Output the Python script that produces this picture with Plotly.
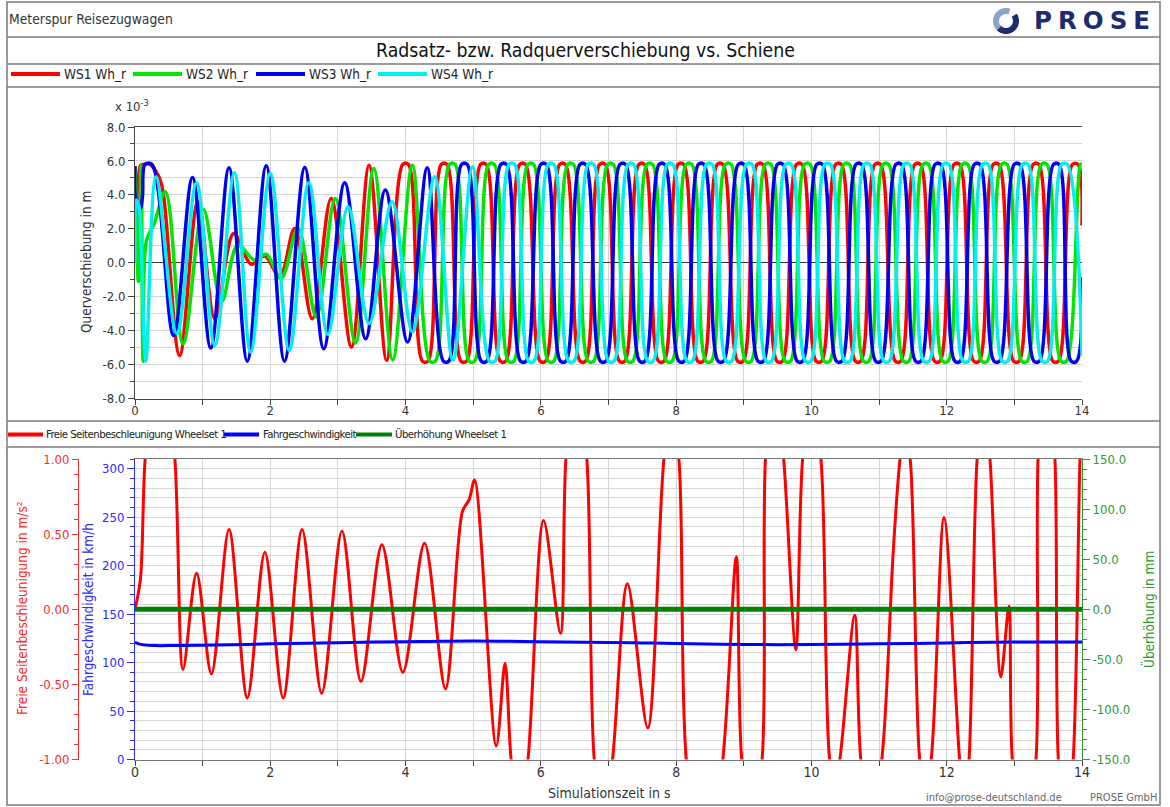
import math
import plotly.graph_objects as go

W, H = 1170, 807

# ---------------- upper panel: lateral displacement of wheelsets (unit 1e-3 m) ----------------
ws1_t = [0.00, 0.03, 0.08, 0.13, 0.22, 0.34, 0.41, 0.66, 0.93, 1.18,
         1.46, 1.72, 1.92, 2.14, 2.36, 2.62, 2.90, 3.20, 3.46, 3.72,
         3.96, 4.04, 4.25, 4.33, 4.53, 4.61, 4.82, 4.90, 5.11, 5.19,
         5.40, 5.48, 5.69, 5.77, 5.99, 6.07, 6.28, 6.36, 6.58, 6.66,
         6.87, 6.95, 7.16, 7.24, 7.45, 7.53, 7.74, 7.82, 8.03, 8.11,
         8.32, 8.40, 8.61, 8.69, 8.91, 8.99, 9.20, 9.28, 9.49, 9.57,
         9.78, 9.86, 10.07, 10.15, 10.36, 10.44, 10.65, 10.73, 10.94, 11.02,
         11.24, 11.32, 11.53, 11.61, 11.82, 11.90, 12.11, 12.19, 12.40, 12.48,
         12.69, 12.77, 12.99, 13.07, 13.28, 13.36, 13.57, 13.65, 13.86, 13.94,
         14.00]
ws1_q = [5.6, 1.7, 5.7, 5.8, 5.8, 5.17, 4.3, -5.46, 3.6, -3.3,
         1.72, -0.09, 0.4, -0.84, 2.02, -3.3, 3.79, -4.97, 5.75, -5.75,
         5.8, 5.8, -5.8, -5.8, 5.8, 5.8, -5.8, -5.8, 5.8, 5.8,
         -5.8, -5.8, 5.8, 5.8, -5.8, -5.8, 5.8, 5.8, -5.8, -5.8,
         5.8, 5.8, -5.8, -5.8, 5.8, 5.8, -5.8, -5.8, 5.8, 5.8,
         -5.8, -5.8, 5.8, 5.8, -5.8, -5.8, 5.8, 5.8, -5.8, -5.8,
         5.8, 5.8, -5.8, -5.8, 5.8, 5.8, -5.8, -5.8, 5.8, 5.8,
         -5.8, -5.8, 5.8, 5.8, -5.8, -5.8, 5.8, 5.8, -5.8, -5.8,
         5.8, 5.8, -5.8, -5.8, 5.8, 5.8, -5.8, -5.8, 5.8, 5.8,
         2.2]

ws2_t = [0.00, 0.05, 0.09, 0.12, 0.17, 0.28, 0.45, 0.71, 1.01, 1.28,
         1.52, 1.77, 1.94, 2.16, 2.41, 2.68, 2.96, 3.26, 3.53, 3.81, 4.10,
         4.36, 4.44, 4.65, 4.73, 4.94, 5.02, 5.23, 5.31, 5.52, 5.60,
         5.81, 5.89, 6.11, 6.19, 6.40, 6.48, 6.70, 6.78, 6.99, 7.07,
         7.28, 7.36, 7.57, 7.65, 7.86, 7.94, 8.15, 8.23, 8.44, 8.52,
         8.73, 8.81, 9.03, 9.11, 9.32, 9.40, 9.61, 9.69, 9.90, 9.98,
         10.19, 10.27, 10.48, 10.56, 10.77, 10.85, 11.06, 11.14, 11.36, 11.44,
         11.65, 11.73, 11.94, 12.02, 12.23, 12.31, 12.52, 12.60, 12.81, 12.89,
         13.11, 13.19, 13.40, 13.48, 13.69, 13.77, 13.98, 14.00]
ws2_q = [5.7, -1.1, 5.7, -5.8, 1.3, 2.26, 4.18, -4.77, 3.15, -2.3,
         1.03, 0.15, 0.5, -0.93, 2.02, -3.2, 3.79, -4.73, 5.56, -5.72, 5.75,
         -5.8, -5.8, 5.8, 5.8, -5.8, -5.8, 5.8, 5.8, -5.8, -5.8,
         5.8, 5.8, -5.8, -5.8, 5.8, 5.8, -5.8, -5.8, 5.8, 5.8,
         -5.8, -5.8, 5.8, 5.8, -5.8, -5.8, 5.8, 5.8, -5.8, -5.8,
         5.8, 5.8, -5.8, -5.8, 5.8, 5.8, -5.8, -5.8, 5.8, 5.8,
         -5.8, -5.8, 5.8, 5.8, -5.8, -5.8, 5.8, 5.8, -5.8, -5.8,
         5.8, 5.8, -5.8, -5.8, 5.8, 5.8, -5.8, -5.8, 5.8, 5.8,
         -5.8, -5.8, 5.8, 5.8, -5.8, -5.8, 5.8, 5.8]

ws3_t = [0.00, 0.01, 0.05, 0.08, 0.11, 0.15, 0.25, 0.57, 0.85, 1.12,
         1.39, 1.66, 1.94, 2.21, 2.51, 2.79, 3.10, 3.41, 3.70, 4.03, 4.32,
         4.56, 4.64, 4.83, 4.91, 5.12, 5.20, 5.41, 5.49, 5.70, 5.78,
         6.00, 6.08, 6.29, 6.37, 6.58, 6.66, 6.88, 6.96, 7.17, 7.25,
         7.46, 7.54, 7.75, 7.83, 8.04, 8.12, 8.33, 8.41, 8.62, 8.70,
         8.92, 9.00, 9.21, 9.29, 9.50, 9.58, 9.79, 9.87, 10.08, 10.16,
         10.37, 10.45, 10.66, 10.74, 10.95, 11.03, 11.25, 11.33, 11.54, 11.62,
         11.83, 11.91, 12.12, 12.20, 12.41, 12.49, 12.70, 12.78, 13.00, 13.08,
         13.29, 13.37, 13.58, 13.66, 13.84, 13.92, 14.00]
ws3_q = [5.7, 3.8, 3.5, 3.2, 3.9, 5.8, 5.8, -4.28, 5.03, -5.03,
         5.6, -5.8, 5.72, -5.8, 5.62, -5.07, 4.71, -4.48, 4.28, -4.67, 5.6,
         -5.8, -5.8, 5.8, 5.8, -5.8, -5.8, 5.8, 5.8, -5.8, -5.8,
         5.8, 5.8, -5.8, -5.8, 5.8, 5.8, -5.8, -5.8, 5.8, 5.8,
         -5.8, -5.8, 5.8, 5.8, -5.8, -5.8, 5.8, 5.8, -5.8, -5.8,
         5.8, 5.8, -5.8, -5.8, 5.8, 5.8, -5.8, -5.8, 5.8, 5.8,
         -5.8, -5.8, 5.8, 5.8, -5.8, -5.8, 5.8, 5.8, -5.8, -5.8,
         5.8, 5.8, -5.8, -5.8, 5.8, 5.8, -5.8, -5.8, 5.8, 5.8,
         -5.8, -5.8, 5.8, 5.8, -5.8, -5.8, -0.86]

ws4_t = [0.00, 0.02, 0.06, 0.09, 0.16, 0.31, 0.62, 0.91, 1.18, 1.47,
         1.71, 2.00, 2.28, 2.57, 2.85, 3.15, 3.46, 3.80, 4.10, 4.43, 4.70, 4.99,
         5.24, 5.32, 5.53, 5.61, 5.82, 5.90, 6.11, 6.19, 6.41, 6.49,
         6.70, 6.78, 7.00, 7.08, 7.29, 7.37, 7.58, 7.66, 7.87, 7.95,
         8.16, 8.24, 8.45, 8.53, 8.74, 8.82, 9.04, 9.12, 9.33, 9.41,
         9.62, 9.70, 9.91, 9.99, 10.20, 10.28, 10.49, 10.57, 10.78, 10.86,
         11.07, 11.15, 11.37, 11.45, 11.66, 11.74, 11.95, 12.03, 12.24, 12.32,
         12.53, 12.61, 12.82, 12.90, 13.12, 13.20, 13.41, 13.49, 13.70, 13.78,
         14.00]
ws4_q = [0.0, 3.7, 3.3, 1.2, -5.8, 5.07, -4.18, 4.71, -4.87, 5.3,
         -5.27, 5.27, -5.17, 4.71, -4.22, 3.3, -3.59, 3.59, -4.08, 5.07, -5.75, 5.66,
         -5.8, -5.8, 5.8, 5.8, -5.8, -5.8, 5.8, 5.8, -5.8, -5.8,
         5.8, 5.8, -5.8, -5.8, 5.8, 5.8, -5.8, -5.8, 5.8, 5.8,
         -5.8, -5.8, 5.8, 5.8, -5.8, -5.8, 5.8, 5.8, -5.8, -5.8,
         5.8, 5.8, -5.8, -5.8, 5.8, 5.8, -5.8, -5.8, 5.8, 5.8,
         -5.8, -5.8, 5.8, 5.8, -5.8, -5.8, 5.8, 5.8, -5.8, -5.8,
         5.8, 5.8, -5.8, -5.8, 5.8, 5.8, -5.8, -5.8, 5.8, 5.8,
         -5.5]

series_names = ["WS1 Wh_r", "WS2 Wh_r", "WS3 Wh_r", "WS4 Wh_r"]

# ---------------- lower panel ----------------
# free lateral acceleration, wheelset 1 (m/s^2)
acc_t = [0.00, 0.08, 0.15, 0.37, 0.59, 0.71, 0.91, 1.13, 1.39, 1.66,
         1.92, 2.19, 2.47, 2.76, 3.06, 3.34, 3.65, 3.96, 4.28, 4.59,
         4.84, 4.94, 5.02, 5.34, 5.47, 5.56, 5.68, 5.81, 6.04, 6.29,
         6.37, 6.52, 6.68, 6.79, 6.93, 7.06, 7.28, 7.58, 7.82, 7.93,
         8.04, 8.15, 8.42, 8.69, 8.89, 8.97, 9.12, 9.27, 9.32, 9.45,
         9.59, 9.77, 9.87, 10.00, 10.14, 10.27, 10.35, 10.42, 10.64, 10.73,
         10.88, 11.04, 11.21, 11.31, 11.38, 11.46, 11.60, 11.68, 11.77, 11.96,
         12.19, 12.26, 12.33, 12.45, 12.55, 12.64, 12.80, 12.92, 12.97, 13.15,
         13.32, 13.35, 13.47, 13.60, 13.65, 13.76, 13.87, 13.97, 14.00]
acc_a = [0.00, 0.20, 1.00, 2.00, 1.00, -0.40, 0.24, -0.43, 0.53, -0.59,
         0.38, -0.59, 0.53, -0.56, 0.52, -0.48, 0.43, -0.42, 0.44, -0.53,
         0.65, 0.73, 0.86, -0.91, -0.36, -1.00, -1.40, -1.00, 0.59, -0.16,
         1.00, 1.60, 1.00, -1.00, -1.40, -1.00, 0.17, -0.79, 1.00, 1.30,
         1.00, -1.00, -1.80, -1.00, 0.35, -1.00, -1.40, -1.00, 1.00, 1.60,
         1.00, -0.27, 1.00, 1.40, 1.00, -1.00, -1.15, -1.00, -0.04, -1.00,
         -1.40, -1.00, 0.39, 1.00, 1.20, 1.00, -1.00, -1.20, -1.00, 0.61,
         -1.00, -1.30, -1.00, 1.00, 1.40, 1.00, -0.45, 0.02, -1.00, -1.60,
         -1.00, 1.00, 1.80, 1.00, -1.00, -1.50, -1.00, 1.00, 1.30]

# driving speed (km/h)
v_t = [0.0, 0.1, 0.3, 0.6, 1.0, 2.0, 3.0, 4.0, 5.0, 6.0,
       7.0, 7.5, 8.0, 9.0, 10.0, 11.0, 12.0, 13.0, 14.0]
v_kmh = [120.9, 118.5, 117.5, 117.6, 117.8, 119.3, 120.5, 121.6, 122.3, 121.6,
         120.6, 120.3, 119.6, 118.6, 118.6, 119.3, 120.3, 121.2, 121.3]

# cant, wheelset 1 (mm)
ueb_t = [0.0, 14.0]
ueb_mm = [0.0, 0.0]

lower_names = ["Freie Seitenbeschleunigung Wheelset 1", "Fahrgeschwindigkeit", "Überhöhung Wheelset 1"]

# tick labels
t_ticks = [0, 2, 4, 6, 8, 10, 12, 14]
t_labels = ["0", "2", "4", "6", "8", "10", "12", "14"]
q_ticks = [8, 6, 4, 2, 0, -2, -4, -6, -8]
q_labels = ["8.0", "6.0", "4.0", "2.0", "0.0", "-2.0", "-4.0", "-6.0", "-8.0"]
a_ticks = [1.0, 0.5, 0.0, -0.5, -1.0]
a_labels = ["1.00", "0.50", "0.00", "-0.50", "-1.00"]
v_ticks = [0, 50, 100, 150, 200, 250, 300]
v_labels = ["0", "50", "100", "150", "200", "250", "300"]
u_ticks = [150, 100, 50, 0, -50, -100, -150]
u_labels = ["150.0", "100.0", "50.0", "0.0", "-50.0", "-100.0", "-150.0"]

# ---------------- styling ----------------
F_MAIN = "'DejaVu Sans Condensed', 'DejaVu Sans', sans-serif"
F_NARROW = "'DejaVu Sans Condensed', 'DejaVu Sans', sans-serif"
GRID = "#d6d6d6"
TXT = "#333333"
C_WS = ["#ff0000", "#00e600", "#0000f0", "#00f0f0"]
C_ACC, C_V, C_UEB = "#ff0000", "#0000ff", "#008000"
C_ACC_AX, C_V_AX, C_UEB_AX = "#ff2a2a", "#2a2aff", "#2f9a2f"


def px(x):
    return x / W


def py(y):
    return 1 - y / H


X0, X1 = px(135), px(1082)
TOP_DOM = [py(398.5), py(127)]
BOT_DOM = [py(759.5), py(459)]

fig = go.Figure()

for t, q, c, n in zip([ws1_t, ws2_t, ws3_t, ws4_t], [ws1_q, ws2_q, ws3_q, ws4_q], C_WS, series_names):
    fig.add_trace(go.Scatter(x=t, y=q, name=n, mode="lines", xaxis="x", yaxis="y",
                             line=dict(color=c, width=3.5, shape="spline", smoothing=1.0),
                             showlegend=False))

fig.add_trace(go.Scatter(x=acc_t, y=acc_a, name=lower_names[0], mode="lines", xaxis="x2", yaxis="y2",
                         line=dict(color=C_ACC, width=3, shape="spline", smoothing=0.9), showlegend=False))
fig.add_trace(go.Scatter(x=v_t, y=v_kmh, name=lower_names[1], mode="lines", xaxis="x2", yaxis="y3",
                         line=dict(color=C_V, width=3, shape="spline"), showlegend=False))
fig.add_trace(go.Scatter(x=ueb_t, y=ueb_mm, name=lower_names[2], mode="lines", xaxis="x2", yaxis="y4",
                         line=dict(color=C_UEB, width=5), showlegend=False))

tick_font = dict(family=F_MAIN, size=13, color=TXT)

fig.update_layout(
    width=W, height=H, margin=dict(l=0, r=0, t=0, b=0, pad=0, autoexpand=False),
    paper_bgcolor="white", plot_bgcolor="white",
    xaxis=dict(domain=[X0, X1], anchor="y", range=[0, 14], automargin=False,
               tickmode="array", tickvals=t_ticks, ticktext=t_labels,
               ticks="outside", ticklen=5, tickcolor="#444", tickfont=tick_font,
               ticklabelstandoff=-5,
               showgrid=True, gridcolor=GRID, zeroline=False,
               minor=dict(dtick=1, tick0=0, ticks="outside", ticklen=5, tickcolor="#444",
                          showgrid=True, gridcolor=GRID),
               showline=True, linecolor="#444", linewidth=1, mirror=True),
    yaxis=dict(domain=TOP_DOM, anchor="x", range=[-8, 8], automargin=False,
               tickmode="array", tickvals=q_ticks, ticktext=q_labels,
               ticks="outside", ticklen=6, tickcolor="#444", tickfont=tick_font,
               showgrid=True, gridcolor=GRID,
               minor=dict(dtick=1, tick0=0, ticks="outside", ticklen=4, tickcolor="#444",
                          showgrid=True, gridcolor=GRID),
               zeroline=True, zerolinecolor="#333", zerolinewidth=1,
               showline=True, linecolor="#444", linewidth=1),
    xaxis2=dict(domain=[X0, X1], anchor="y2", range=[0, 14], automargin=False,
                tickmode="array", tickvals=t_ticks, ticktext=t_labels,
                ticks="outside", ticklen=5, tickcolor="#444",
                tickfont=dict(family=F_NARROW, size=14, color=TXT),
                ticklabelstandoff=-5,
                showgrid=True, gridcolor=GRID, zeroline=False,
                minor=dict(dtick=1, tick0=0, ticks="outside", ticklen=5, tickcolor="#444",
                           showgrid=True, gridcolor=GRID),
                showline=True, linecolor="#777", linewidth=1, mirror=True),
    yaxis2=dict(domain=BOT_DOM, anchor="free", position=px(78), side="left", range=[-1, 1],
                automargin=False,
                tickmode="array", tickvals=a_ticks, ticktext=a_labels,
                ticks="outside", ticklen=6, tickcolor=C_ACC_AX,
                tickfont=dict(family=F_MAIN, size=13, color=C_ACC_AX),
                minor=dict(dtick=0.1, tick0=0, ticks="outside", ticklen=4, tickcolor=C_ACC_AX, showgrid=False),
                showgrid=False, zeroline=False,
                showline=True, linecolor=C_ACC_AX, linewidth=1),
    yaxis3=dict(overlaying="y2", anchor="x2", side="left", range=[0, 310], automargin=False,
                tickmode="array", tickvals=v_ticks, ticktext=v_labels,
                ticks="outside", ticklen=7, tickcolor=C_V_AX,
                tickfont=dict(family=F_MAIN, size=13, color=C_V_AX),
                minor=dict(dtick=10, tick0=0, ticks="outside", ticklen=4, tickcolor=C_V_AX,
                           showgrid=True, gridcolor=GRID),
                showgrid=True, gridcolor=GRID, zeroline=False,
                showline=True, linecolor=C_V_AX, linewidth=1),
    yaxis4=dict(overlaying="y2", anchor="x2", side="right", range=[-150, 150], automargin=False,
                tickmode="array", tickvals=u_ticks, ticktext=u_labels,
                ticks="outside", ticklen=7, tickcolor=C_UEB_AX,
                tickfont=dict(family=F_MAIN, size=13, color=C_UEB_AX),
                minor=dict(dtick=10, tick0=0, ticks="outside", ticklen=4, tickcolor=C_UEB_AX, showgrid=False),
                showgrid=False, zeroline=False,
                showline=True, linecolor=C_UEB_AX, linewidth=1),
)

shapes = []
annotations = []


def hline(y, x0=7, x1=1160, color="#7a7a7a", width=1.5):
    shapes.append(dict(type="line", xref="paper", yref="paper", x0=px(x0), x1=px(x1),
                       y0=py(y), y1=py(y), line=dict(color=color, width=width)))


def text(x, y, s, size, color=TXT, family=F_MAIN, xanchor="left", angle=0):
    annotations.append(dict(x=px(x), y=py(y), xref="paper", yref="paper", text=s, showarrow=False,
                            xanchor=xanchor, yanchor="middle", textangle=angle,
                            font=dict(size=size, color=color, family=family)))


# page frame and separators
shapes.append(dict(type="rect", xref="paper", yref="paper", x0=px(7), x1=px(1160), y0=py(805), y1=py(2),
                   line=dict(color="#7a7a7a", width=1.5)))
for yy in (37, 64, 87, 421, 447):
    hline(yy)

# header
text(7, 19, "Meterspur Reisezugwagen", 13.8)
text(1032, 20, '<span style="letter-spacing:6px"><b>PROSE</b></span>', 24.5, color="#1d2b6f",
     family="'DejaVu Sans', sans-serif")


# logo ring
def arc_path(cx, cy, r, a0, a1, n=40):
    pts = []
    for i in range(n + 1):
        a = math.radians(a0 + (a1 - a0) * i / n)
        pts.append((px(cx + r * math.cos(a)), py(cy - r * math.sin(a))))
    return "M " + " L ".join(f"{x:.5f},{y:.5f}" for x, y in pts)


shapes.append(dict(type="path", xref="paper", yref="paper", path=arc_path(1006, 21, 10, 70, 225),
                   line=dict(color="#8aa3c8", width=6)))
shapes.append(dict(type="path", xref="paper", yref="paper", path=arc_path(1006, 21, 10, 225, 395),
                   line=dict(color="#1d2b6f", width=6)))

# title
text(585, 50, "Radsatz- bzw. Radquerverschiebung vs. Schiene", 19.3, color="#111", xanchor="center")

# legend, upper panel
for x0, c, n in zip([11, 133, 256, 378], C_WS, series_names):
    shapes.append(dict(type="line", xref="paper", yref="paper", x0=px(x0), x1=px(x0 + 49),
                       y0=py(74), y1=py(74), line=dict(color=c, width=4)))
    text(x0 + 51, 74, n, 13.5, color="#222")

# legend, lower panel
for x0, x1, tx, c, n in zip([8, 224, 356], [43, 259, 392], [44, 261, 393],
                            [C_ACC, C_V, C_UEB], lower_names):
    shapes.append(dict(type="line", xref="paper", yref="paper", x0=px(x0), x1=px(x1),
                       y0=py(434.5), y1=py(434.5), line=dict(color=c, width=4)))
    text(tx, 434.5, f'<span style="letter-spacing:-0.55px">{n}</span>', 11.3, color="#222", family=F_NARROW)

# axis titles
text(113, 106, "x 10<sup>-3</sup>", 13)
text(86, 262, "Querverschiebung in m", 13.5, xanchor="center", angle=-90)
text(22, 608, "Freie Seitenbeschleunigung in m/s²", 13.5, color=C_ACC_AX, xanchor="center", angle=-90)
text(88, 610, "Fahrgeschwindigkeit in km/h", 13.5, color=C_V_AX, xanchor="center", angle=-90)
text(1148, 610, "Überhöhung in mm", 13.5, color=C_UEB_AX, xanchor="center", angle=-90)
text(609, 793, "Simulationszeit in s", 14, family=F_NARROW, xanchor="center")

# footer
text(1064, 797, "info@prose-deutschland.de", 11, color="#666", family=F_NARROW, xanchor="right")
text(1159, 797, "PROSE GmbH", 11, color="#666", family=F_NARROW, xanchor="right")

fig.update_layout(shapes=shapes, annotations=annotations)
fig.write_html("out.html",
               post_script="document.body.style.margin='0px';document.body.style.overflow='hidden';")
